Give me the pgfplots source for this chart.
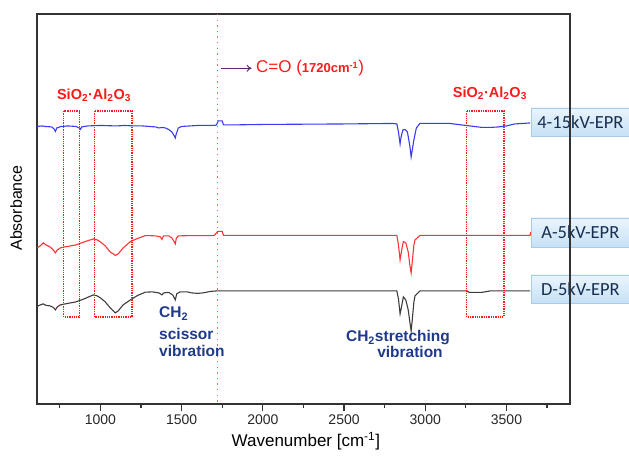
\documentclass[border=0pt]{standalone}
\usepackage{fontspec}
\setmainfont{Liberation Sans}
\newfontfamily\carlito{Carlito}
\usepackage{pgfplots}
\pgfplotsset{compat=1.18}
\usetikzlibrary{arrows.meta}

\definecolor{cBlue}{HTML}{3A3AF5}
\definecolor{cRed}{HTML}{FF3333}
\definecolor{cBlack}{HTML}{3C3C3C}
\definecolor{annRed}{HTML}{FF1A1A}
\definecolor{navy}{HTML}{1F3A8A}
\definecolor{arrowP}{HTML}{5A2D6A}
\definecolor{boxTop}{HTML}{EAF5FD}
\definecolor{boxBot}{HTML}{C6E1F6}
\definecolor{boxLine}{HTML}{A6CCEA}
\definecolor{boxText}{HTML}{172E4F}

\begin{document}
\begin{tikzpicture}
\begin{axis}[
    width=533pt, height=390pt, scale only axis,
    xmin=610, xmax=3890,
    ymin=14, ymax=404, y dir=reverse,
    clip=false,
    axis line style={line width=1.5pt, black!80},
    xtick={1000,1500,2000,2500,3000,3500},
    minor xtick={750,1250,1750,2250,2750,3250,3750},
    ytick=\empty,
    xtick pos=lower,
    tick align=outside,
    major tick length=7.5pt, minor tick length=4pt,
    tick style={line width=1.2pt, black!80},
    xticklabel style={font=\fontsize{14}{14}\selectfont, text=black!85},
    /pgf/number format/assume math mode=true,
    /pgf/number format/set thousands separator={},
    scaled ticks=false,
]
% 4-15kV-EPR
\addplot[cBlue, line width=1.1pt] coordinates {
 (611,126.5) (640,126) (660,126.5) (700,127) (715,129) (723,131.5) (732,128) (760,126.5)
 (800,126) (850,126.5) (870,128) (877,129.5) (885,127) (920,126) (1000,125.5) (1100,126)
 (1150,125.5) (1200,126) (1260,126) (1300,126.5) (1340,127) (1360,128) (1380,127.5)
 (1400,128) (1420,129.5) (1440,132) (1455,136) (1461,138) (1467,134) (1480,128) (1500,126.5)
 (1550,126) (1600,125.5) (1700,125.5) (1715,125) (1725,121) (1750,121) (1758,125) (1800,125)
 (2000,124.5) (2500,124) (2800,123.5) (2825,124) (2835,132) (2845,144) (2850,138) (2862,130)
 (2876,129.5) (2890,132) (2905,146) (2913,157) (2920,150) (2930,140) (2945,128) (2967,123.5)
 (3000,123.5) (3150,123.5) (3200,124.5) (3250,125.5) (3300,126.5) (3350,127.5) (3400,127.5)
 (3450,127) (3500,126) (3550,124) (3600,123.5) (3645,123)
};
% A-5kV-EPR
\addplot[cRed, line width=1.1pt] coordinates {
 (611,248) (630,246) (649,243) (665,245) (690,247) (710,250) (723,253) (735,250) (754,248)
 (780,247) (800,246.5) (850,245) (900,242) (957,239) (980,240) (1000,242) (1030,246)
 (1060,252) (1092,255.5) (1110,254) (1140,248) (1185,241.7) (1230,238.5) (1277,235.7)
 (1300,235.7) (1340,236) (1370,237) (1379,239.5) (1388,236) (1420,236) (1440,238) (1455,242)
 (1461,244) (1468,238) (1480,236) (1550,235.7) (1700,235.7) (1722,231.5) (1750,231.5)
 (1758,235.5) (2000,235.5) (2825,235.5) (2835,245) (2845,260) (2855,250) (2865,241.7)
 (2880,243) (2895,252) (2905,265) (2913,273) (2920,262) (2930,245) (2937,240) (2968,235.5)
 (3200,235.5) (3645,235.5) (3650,232)
};
% D-5kV-EPR
\addplot[cBlack, line width=1.1pt] coordinates {
 (611,306.5) (630,305) (649,304) (665,305.5) (690,306) (710,307.5) (723,310) (735,307)
 (754,305) (800,303.5) (850,302) (900,299) (957,295) (980,296) (1000,298) (1030,302)
 (1060,308) (1092,313) (1110,311) (1140,305) (1185,300) (1230,295.5) (1277,292.3) (1320,292)
 (1360,293) (1379,295) (1390,293) (1420,292.5) (1445,295) (1461,300) (1470,294) (1490,292)
 (1535,292) (1560,293) (1600,293.5) (1633,293) (1680,291.5) (1720,291) (2000,291) (2825,291)
 (2835,299) (2845,314) (2855,306) (2865,297) (2880,300) (2895,310) (2905,322) (2913,331)
 (2920,320) (2930,302) (2937,296) (2968,291) (3255,291) (3270,292.5) (3350,292.5) (3400,291)
 (3645,291)
};
% C=O marker line
\draw[annRed!70, line width=1.4pt, dash pattern=on 1.4pt off 4.2pt] (axis cs:1720,14) -- (axis cs:1720,404);
% SiO2.Al2O3 regions
\draw[annRed, line width=1.3pt, densely dotted] (axis cs:774,111) rectangle (axis cs:873,317);
\draw[annRed, line width=1.3pt, densely dotted] (axis cs:963,111) rectangle (axis cs:1195,317);
\draw[annRed, line width=1.3pt, densely dotted] (axis cs:3255,111) rectangle (axis cs:3485,317);
\node[text=annRed, font=\bfseries\fontsize{14.5}{14.5}\selectfont] at (axis cs:961,95) {SiO\textsubscript{2}·Al\textsubscript{2}O\textsubscript{3}};
\node[text=annRed, font=\bfseries\fontsize{14.5}{14.5}\selectfont] at (axis cs:3398,93) {SiO\textsubscript{2}·Al\textsubscript{2}O\textsubscript{3}};
% C=O annotation
\draw[arrowP, line width=1pt, -{To[length=5pt,width=7pt]}] (axis cs:1740,68.3) -- (axis cs:1931,68.3);
\node[anchor=west, text=annRed, inner sep=0pt] at (axis cs:1958,68.3)
  {\fontsize{17}{17}\selectfont C=O (\fontsize{13}{13}\selectfont\bfseries 1720cm\textsuperscript{-1}\fontsize{17}{17}\selectfont\mdseries)};
% CH2 annotations
\node[anchor=base west, text=navy, inner sep=0pt, font=\bfseries\fontsize{15.5}{15.5}\selectfont] at (axis cs:1361,318) {CH\textsubscript{2}};
\node[anchor=base west, text=navy, inner sep=0pt, font=\bfseries\fontsize{15.5}{15.5}\selectfont] at (axis cs:1361,340) {scissor};
\node[anchor=base west, text=navy, inner sep=0pt, font=\bfseries\fontsize{15.5}{15.5}\selectfont] at (axis cs:1361,357) {vibration};
\node[anchor=base, text=navy, inner sep=0pt, font=\bfseries\fontsize{15.5}{15.5}\selectfont] at (axis cs:2832,342) {CH\textsubscript{2}stretching};
\node[anchor=base, text=navy, inner sep=0pt, font=\bfseries\fontsize{15.5}{15.5}\selectfont] at (axis cs:2906,358) {vibration};
% sample labels
\draw[draw=boxLine, top color=boxTop, bottom color=boxBot] (axis cs:3651,108) rectangle (axis cs:4253,136);
\draw[draw=boxLine, top color=boxTop, bottom color=boxBot] (axis cs:3651,218) rectangle (axis cs:4253,247);
\draw[draw=boxLine, top color=boxTop, bottom color=boxBot] (axis cs:3651,275) rectangle (axis cs:4253,303);
\node[text=boxText, font=\carlito\fontsize{18.5}{18.5}\selectfont] at (axis cs:3955,122) {4-15kV-EPR};
\node[text=boxText, font=\carlito\fontsize{18.5}{18.5}\selectfont] at (axis cs:3955,232.5) {A-5kV-EPR};
\node[text=boxText, font=\carlito\fontsize{18.5}{18.5}\selectfont] at (axis cs:3955,289) {D-5kV-EPR};
\draw[line width=1.5pt, black!80] (rel axis cs:1,0) -- (rel axis cs:1,1);
% axis titles
\node[font=\fontsize{17}{17}\selectfont] at (axis cs:2265,441) {Wavenumber [cm\textsuperscript{-1}]};
\node[rotate=90, font=\fontsize{16}{16}\selectfont] at (axis cs:481,208) {Absorbance};
% picture extent
\path (axis cs:382,0) rectangle (axis cs:4253,457);
\end{axis}
\end{tikzpicture}
\end{document}
